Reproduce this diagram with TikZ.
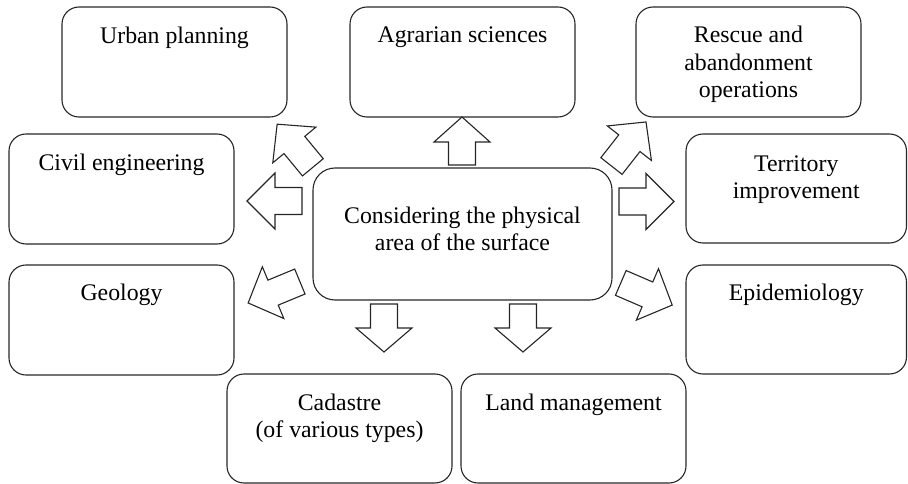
\documentclass[tikz,border=0pt]{standalone}
\usepackage{fontspec}
\setmainfont{Liberation Serif}
\newcommand\bxt[4]{\parbox[t][#1][t]{#2}{\centering\vspace*{\dimexpr#3-\ht\strutbox\relax}\strut#4}}
\tikzset{
  box/.style={draw=black!85, line width=1.1pt, rounded corners=17pt, inner sep=0pt, outer sep=0pt},
  blockarrow/.style={draw=black!85, line width=1.1pt, fill=white, line join=miter},
  pics/barrow/.style args={#1/#2}{code={%
    \draw[blockarrow] (-#1/2,-13.5) -- (#1/2-#2,-13.5) -- (#1/2-#2,-28) -- (#1/2,0)
      -- (#1/2-#2,28) -- (#1/2-#2,13.5) -- (-#1/2,13.5) -- cycle;}}
}
\begin{document}
\begin{tikzpicture}[x=1pt, y=-1pt, font=\fontsize{23.8}{27.5}\selectfont]
\useasboundingbox (0,0) rectangle (908,484);
% boxes
\node[box] (urb) at (174.5,62) {\bxt{110pt}{225pt}{37pt}{Urban planning}};
\node[box] (agr) at (462.5,62) {\bxt{110pt}{225pt}{36pt}{Agrarian sciences}};
\node[box] (res) at (748.5,62) {\bxt{110pt}{225pt}{36pt}{Rescue and\\abandonment\\operations}};
\node[box] (civ) at (121.5,189) {\bxt{110pt}{225pt}{36.5pt}{Civil engineering}};
\node[box] (ter) at (796.25,188.5) {\bxt{109pt}{220.5pt}{37.5pt}{Territory\\improvement}};
\node[box] (geo) at (121.5,320) {\bxt{110pt}{225pt}{35pt}{Geology}};
\node[box] (epi) at (796.25,319.5) {\bxt{109pt}{220.5pt}{35pt}{Epidemiology}};
\node[box] (cad) at (339.5,428.5) {\bxt{109pt}{225pt}{36pt}{Cadastre\\(of various types)}};
\node[box] (lan) at (573.5,428.5) {\bxt{109pt}{225pt}{36pt}{Land management}};
\node[box, rounded corners=22pt] (c) at (462.5,234) {\bxt{132pt}{299pt}{55pt}{Considering the physical\\area of the surface}};
% block arrows
\pic[rotate=90] at (462,141) {barrow=48/25};
\pic[rotate=180] at (274.5,201) {barrow=55/28};
\pic at (646.5,201.5) {barrow=55/28};
\pic[rotate=-90] at (384,328) {barrow=48/24};
\pic[rotate=-90] at (523,328) {barrow=48/24};
\pic[rotate=129.6] at (295,145.75) {barrow=56/27};
\pic[rotate=51.9] at (628.75,144) {barrow=56/27};
\pic[rotate=202.5] at (274,292.25) {barrow=56/27};
\pic[rotate=-23.3] at (646.5,294) {barrow=56/27};
\end{tikzpicture}
\end{document}
